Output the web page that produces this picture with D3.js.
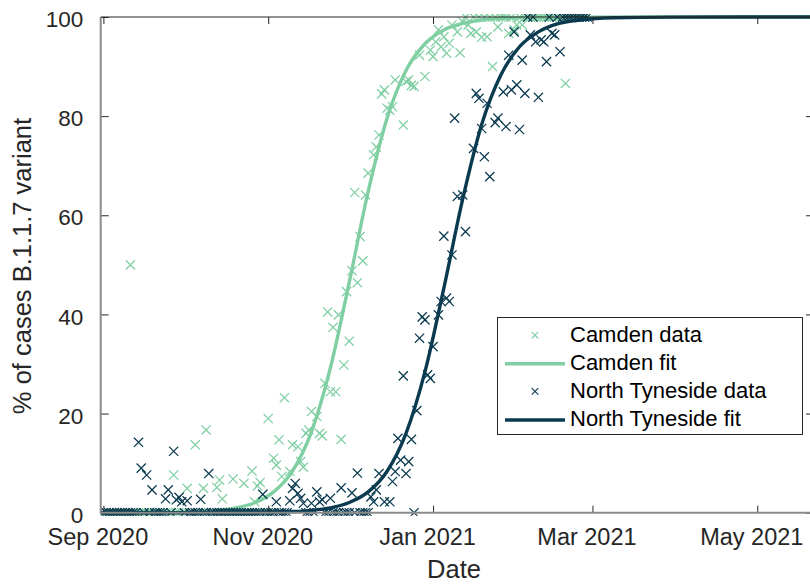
<!DOCTYPE html>
<html>
<head>
<meta charset="utf-8">
<script src="https://cdn.jsdelivr.net/npm/d3@7"></script>
<style>
  html, body { margin: 0; padding: 0; background: #fff; }
  svg { display: block; font-family: "Liberation Sans", Arial, Helvetica, sans-serif; }
</style>
</head>
<body>
<svg id="chart" width="810" height="584"></svg>
<script>
// Daily share of cases that are the B.1.1.7 variant (%), one value per day
// from the start date; null marks a day with no sample.
const seriesStart = "2020-09-01";

const camdenPct = [
  0, 0, 0, 0, 0, 0, 0, 0, 0, 0,            // d0-9
  50, 0, 0, 0, 0, 0, 0, 0, 0, 0,           // d10-19
  0, 0, 0, 0, 0, 0, 7.6, 0, 0, 0,          // d20-29
  0, 4.9, 0, 0, 13.7, 0, 0, 4.9, 16.7, 0,  // d30-39
  0, 0, 5.1, 6.6, 2.8, 0, 0, 0, 6.8, 0,    // d40-49
  0, 0, 5.9, 0, 0, 8.4, 2.2, 5.4, 6.1, 0,  // d50-59
  0, 19.0, 0, 11, 9.6, 14.7, 7.3, 23.2, null, 8.3,          // d60-69
  13.7, null, 13.3, 10.3, 9.2, 16, 16.7, 20.4, null, 19.4,  // d70-79
  16, 15.5, 26.1, 40.5, 24.4, 37.4, 24.4, 39.9, 14.8, 29.8, // d80-89
  44.6, 34.6, 48.8, 64.6, 46.4, 55.7, 50.8, 64.1, 68.5, null, // d90-99
  72.2, 73.8, 76.2, 84.5, 85.3, 81.6, 81.2, 81.9, 87.3, null, // d100-109
  null, 78.2, 87, 87.3, 86.2, 86, null, 92.3, null, 88,       // d110-119
  null, 93.3, 92, 95, 97.4, 94, 96, 92.7, 94.7, 98.4,         // d120-129
  null, 97, 92.8, 99, 100, 98.4, 96.7, 100, 97, 100,          // d130-139
  95.9, 100, 96, 100, 90, 100, 98, 100, 100, 100,             // d140-149
  96.7, 100, 97.4, 98.4, 100, 98.4, 100, 100, 100, 100,       // d150-159
  100, 100, 100, 100, 100, 100, 100, 100, 100, 100,           // d160-169
  100, 86.6, 100, 100, 100, 100, 100, 100, 100                // d170-178
];

const tynesidePct = [
  0, 0, 0, 0, 0, 0, 0, 0, 0, 0,                 // d0-9
  0, 0, 0, 14.2, 9.0, 0, 7.6, 0, 4.6, 0,        // d10-19
  0, 0, 0, 2.8, 4.6, 0, 12.4, 2.6, 3.1, 2.2,    // d20-29
  0, 2.4, 0, 0, 0, 0, 2.7, 0, 0, 7.9,           // d30-39
  0, 0, 0, 0, 0, 0, 0, 0, 0, 0,                 // d40-49
  0, 0, 0, 0, 0, 0, 0, 0, 0, 3.7,               // d50-59
  0, 0, 0, 0, 2.2, 0, 0, 0, 0, 2.4,             // d60-69
  4.9, 5.9, 3.9, 2.9, 1.9, 0, 0, 1.9, 0, 4.2,   // d70-79
  2.2, 2.6, 0, 0, 2.9, 0, 0, 0, 5.0, 0,         // d80-89
  0, 0, 4.0, 0, 8.0, 0, 0, 0, 0, 3.2,           // d90-99
  2.2, 4.6, 7.9, null, 2.2, null, 2.2, 6.3, 8.3, 15,          // d100-109
  10.6, 27.6, 7.9, 10.3, 14.8, 0, 20.6, 35.2, 39.5, 38.9,     // d110-119
  27.8, 27.1, 33.5, null, 39.9, 42.6, 55.8, 43.3, 42.6, 52,   // d120-129
  79.6, 63.8, null, 64.1, 56.7, null, null, 73.5, 84.6, 83.6, // d130-139
  77.5, 71.8, 82.6, 67.8, null, 78.7, 79.6, null, 84.9, 77.9, // d140-149
  92.3, 85.3, 97, 86.3, 77.3, 91.3, 84.6, 100, 96.4, 100,     // d150-159
  95, 83.8, 95.4, 95, 91, 100, 96.7, 96.4, 100, 93,           // d160-169
  100, 100, 100, 100, 100, 100, 100, 100, 100, 100            // d170-179
];

// Logistic fits, sampled by date (%)
const camdenFitDates = ["2020-08-31", "2020-09-15", "2020-09-29", "2020-10-13", "2020-10-20",
  "2020-10-27", "2020-11-03", "2020-11-10", "2020-11-17", "2020-11-24", "2020-12-01",
  "2020-12-08", "2020-12-15", "2020-12-22", "2020-12-29", "2021-01-05", "2021-01-12",
  "2021-01-19", "2021-02-02", "2021-02-23", "2021-05-22"];
const camdenFitPct = [0, 0.02, 0.1, 0.46, 0.96, 2.0, 4.2, 8.4, 16.3, 29.2, 46.5,
  64.8, 79.6, 89.2, 94.6, 97.4, 98.7, 99.4, 99.86, 99.98, 100];

const tynesideFitDates = ["2020-08-31", "2020-09-29", "2020-10-13", "2020-10-27", "2020-11-10",
  "2020-11-17", "2020-11-24", "2020-12-01", "2020-12-08", "2020-12-15", "2020-12-22",
  "2020-12-29", "2021-01-05", "2021-01-12", "2021-01-19", "2021-01-26", "2021-02-02",
  "2021-02-09", "2021-02-16", "2021-02-23", "2021-03-09", "2021-03-30", "2021-05-22"];
const tynesideFitPct = [0, 0.003, 0.012, 0.05, 0.23, 0.48, 0.99, 2.06, 4.19, 8.36, 16.0,
  28.4, 45.3, 63.3, 78.3, 88.2, 94.0, 97.0, 98.6, 99.3, 99.84, 99.98, 100];

const xTickDates = ["2020-09-01", "2020-11-01", "2021-01-01", "2021-03-01", "2021-05-01"];
const xTickLabels = ["Sep 2020", "Nov 2020", "Jan 2021", "Mar 2021", "May 2021"];
const yTickValues = [0, 20, 40, 60, 80, 100];

const legendLabels = ["Camden data", "Camden fit", "North Tyneside data", "North Tyneside fit"];

// ---- drawing ----
const parse = d3.timeParse("%Y-%m-%d");
const COL_CAMDEN = "#7fcfa3";
const COL_TYNE = "#0a3a4f";
const INK = "#262626";

const svg = d3.select("#chart");
const plot = { left: 100.7, right: 814, top: 17, bottom: 512.7 };

const x = d3.scaleTime()
  .domain([parse("2020-08-31"), parse("2021-05-22")])
  .range([plot.left, plot.right]);
const y = d3.scaleLinear().domain([0, 100]).range([plot.bottom, plot.top]);

svg.append("clipPath").attr("id", "clip")
  .append("rect")
  .attr("x", plot.left).attr("y", plot.top - 3)
  .attr("width", plot.right - plot.left).attr("height", plot.bottom - plot.top + 6);

const start = parse(seriesStart);
function daily(values) {
  return values.map((v, i) => ({ date: d3.timeDay.offset(start, i), v }))
    .filter(d => d.v !== null);
}
function fit(dates, values) {
  return dates.map((s, i) => ({ date: parse(s), v: values[i] }));
}

const xMark = r => `M${-r},${-r}L${r},${r}M${-r},${r}L${r},${-r}`;
const line = d3.line().x(d => x(d.date)).y(d => y(d.v)).curve(d3.curveMonotoneX);

const layer = svg.append("g").attr("clip-path", "url(#clip)");

function drawPoints(data, color) {
  layer.append("g")
    .selectAll("path")
    .data(data)
    .join("path")
    .attr("transform", d => `translate(${x(d.date)},${y(d.v)})`)
    .attr("d", xMark(4.6))
    .attr("fill", "none")
    .attr("stroke", color)
    .attr("stroke-width", 1.25);
}
function drawFit(data, color) {
  layer.append("path")
    .datum(data)
    .attr("d", line)
    .attr("fill", "none")
    .attr("stroke", color)
    .attr("stroke-width", 3.4)
    .attr("stroke-linejoin", "round");
}

drawPoints(daily(camdenPct), COL_CAMDEN);
drawFit(fit(camdenFitDates, camdenFitPct), COL_CAMDEN);
drawPoints(daily(tynesidePct), COL_TYNE);
drawFit(fit(tynesideFitDates, tynesideFitPct), COL_TYNE);

// ---- axes ----
const xTicks = xTickDates.map(parse);

const gx = svg.append("g")
  .attr("transform", `translate(0,${plot.bottom})`)
  .call(d3.axisBottom(x).tickValues(xTicks)
    .tickFormat((d, i) => xTickLabels[i]).tickSize(-7).tickPadding(15.5));
gx.select(".domain").remove();
gx.selectAll("text").attr("font-size", 23.5).attr("fill", INK).attr("dx", -6)
  .attr("font-family", "Liberation Sans, Arial, sans-serif");

const gxTop = svg.append("g")
  .attr("transform", `translate(0,${plot.top})`)
  .call(d3.axisTop(x).tickValues(xTicks).tickFormat("").tickSize(-7));
gxTop.select(".domain").remove();

const gy = svg.append("g")
  .attr("transform", `translate(${plot.left},0)`)
  .call(d3.axisLeft(y).tickValues(yTickValues).tickSize(-8).tickPadding(17.4));
gy.select(".domain").remove();
gy.selectAll("text").attr("font-size", 22.5).attr("fill", INK).attr("dy", "0.43em")
  .attr("font-family", "Liberation Sans, Arial, sans-serif");

const gyRight = svg.append("g")
  .attr("transform", `translate(${plot.right},0)`)
  .call(d3.axisRight(y).tickValues(yTickValues).tickFormat("").tickSize(-8));
gyRight.select(".domain").remove();

svg.selectAll(".tick line").attr("stroke", INK).attr("stroke-width", 1);

// box around the plot area
svg.append("line").attr("x1", plot.left).attr("x2", plot.right)
  .attr("y1", plot.top).attr("y2", plot.top).attr("stroke", INK).attr("stroke-width", 1);
svg.append("line").attr("x1", plot.right).attr("x2", plot.right)
  .attr("y1", plot.top).attr("y2", plot.bottom).attr("stroke", INK).attr("stroke-width", 1);
svg.append("line").attr("x1", plot.left).attr("x2", plot.left)
  .attr("y1", plot.top).attr("y2", plot.bottom + 1).attr("stroke", "#8a8a8a").attr("stroke-width", 2);
svg.append("line").attr("x1", plot.left).attr("x2", plot.right)
  .attr("y1", plot.bottom).attr("y2", plot.bottom).attr("stroke", "#8a8a8a").attr("stroke-width", 2);

// axis titles
svg.append("text")
  .attr("x", 454).attr("y", 578)
  .attr("text-anchor", "middle")
  .attr("font-size", 25.5).attr("fill", INK)
  .text("Date");
svg.append("text")
  .attr("transform", "translate(31,266) rotate(-90)")
  .attr("text-anchor", "middle")
  .attr("font-size", 25.5).attr("fill", INK)
  .text("% of cases B.1.1.7 variant");

// ---- legend ----
const lg = svg.append("g");
lg.append("rect")
  .attr("x", 497.5).attr("y", 317.5).attr("width", 305).attr("height", 117)
  .attr("fill", "#fff").attr("stroke", INK).attr("stroke-width", 1);

const legendRows = [
  { kind: "mark", color: COL_CAMDEN },
  { kind: "line", color: COL_CAMDEN },
  { kind: "mark", color: COL_TYNE },
  { kind: "line", color: COL_TYNE }
];
legendRows.forEach((r, i) => {
  const base = 341.7 + i * 28.1;
  const cy = base - 6.5;
  if (r.kind === "mark") {
    lg.append("path")
      .attr("transform", `translate(535,${cy})`)
      .attr("d", xMark(3.3))
      .attr("fill", "none").attr("stroke", r.color).attr("stroke-width", 1.1);
  } else {
    lg.append("line")
      .attr("x1", 505).attr("x2", 565).attr("y1", cy + 0.5).attr("y2", cy + 0.5)
      .attr("stroke", r.color).attr("stroke-width", 3.4);
  }
  lg.append("text")
    .attr("x", 570).attr("y", base)
    .attr("font-size", 22).attr("fill", "#000")
    .text(legendLabels[i]);
});
</script>
</body>
</html>
